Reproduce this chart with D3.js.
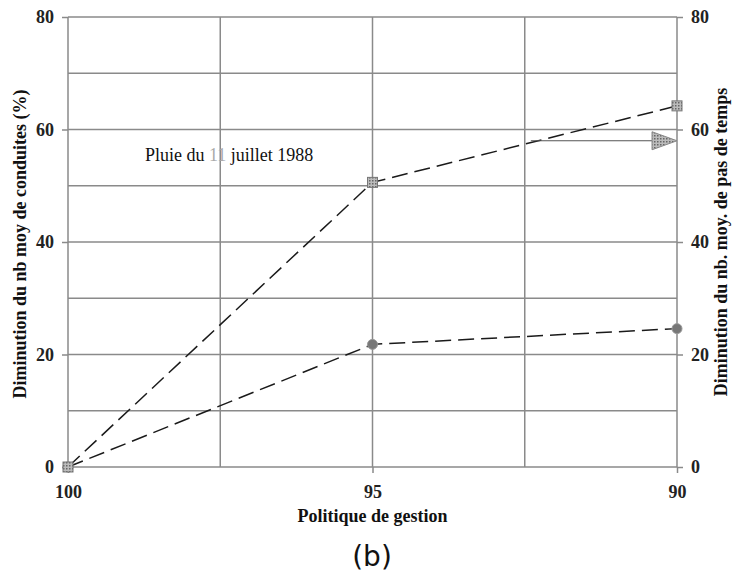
<!DOCTYPE html>
<html><head><meta charset="utf-8">
<script src="https://cdn.jsdelivr.net/npm/d3@7"></script>
<style>body{margin:0;background:#fff}</style>
</head><body>
<script>
// Management policy levels (x) and the two reductions (y, %)
const policies = [100, 95, 90];
const conduitesReduction = [0, 21.8, 24.6];   // circles
const pasTempsReduction = [0, 50.6, 64.2];    // squares
const yTicks = [0, 20, 40, 60, 80];
const xTicks = [100, 95, 90];
const xGrid = [100, 97.5, 95, 92.5, 90];
const yGrid = [0, 10, 20, 30, 40, 50, 60, 70, 80];
const arrowLevel = 58;       // arrow pointing to the right-hand axis
const arrowStart = 92.4;

const W = 736, H = 582;
const m = {l: 68, r: 677, t: 17, b: 467};
const serif = "Liberation Serif, Times New Roman, serif";

const svg = d3.select("body").append("svg").attr("width", W).attr("height", H);
const defs = svg.append("defs");
const pat = defs.append("pattern").attr("id", "dots").attr("width", 3).attr("height", 3)
  .attr("patternUnits", "userSpaceOnUse");
pat.append("rect").attr("width", 3).attr("height", 3).attr("fill", "#bbb");
pat.append("rect").attr("width", 1.5).attr("height", 1.5).attr("fill", "#666");

const x = d3.scaleLinear().domain([100, 90]).range([m.l, m.r]);
const y = d3.scaleLinear().domain([0, 80]).range([m.b, m.t]);

// grid
svg.append("g").selectAll("line").data(yGrid).join("line")
  .attr("x1", m.l).attr("x2", m.r).attr("y1", d => y(d)).attr("y2", d => y(d))
  .attr("stroke", "#8a8a8a").attr("stroke-width", 1.5);
svg.append("g").selectAll("line").data(xGrid).join("line")
  .attr("y1", m.t).attr("y2", m.b).attr("x1", d => x(d)).attr("x2", d => x(d))
  .attr("stroke", "#8a8a8a").attr("stroke-width", 1.5);

// axes
const axStyle = g => {
  g.select(".domain").remove();
  g.selectAll(".tick line").attr("stroke", "#8a8a8a").attr("stroke-width", 1.5);
  g.selectAll(".tick text").attr("font-family", serif).attr("font-weight", "bold")
    .attr("font-size", 18).attr("fill", "#222");
};
svg.append("g").attr("transform", `translate(${m.l},0)`)
  .call(d3.axisLeft(y).tickValues(yTicks).tickSize(6).tickPadding(8)).call(axStyle);
svg.append("g").attr("transform", `translate(${m.r},0)`)
  .call(d3.axisRight(y).tickValues(yTicks).tickSize(6).tickPadding(8)).call(axStyle);
svg.append("g").attr("transform", `translate(0,${m.b})`)
  .call(d3.axisBottom(x).tickValues(xTicks).tickSize(6).tickPadding(12).tickFormat(d3.format("d"))).call(axStyle);

// series lines
const line = d3.line().x((d, i) => x(policies[i])).y(d => y(d));
[pasTempsReduction, conduitesReduction].forEach(s => {
  svg.append("path").datum(s).attr("d", line).attr("fill", "none")
    .attr("stroke", "#1a1a1a").attr("stroke-width", 1.5).attr("stroke-dasharray", "16,7");
});

// markers
svg.append("g").selectAll("circle").data(conduitesReduction).join("circle")
  .attr("cx", (d, i) => x(policies[i])).attr("cy", d => y(d)).attr("r", 5)
  .attr("fill", "#777").attr("stroke", "#999").attr("stroke-width", 1);
svg.append("g").selectAll("rect").data(pasTempsReduction).join("rect")
  .attr("x", (d, i) => x(policies[i]) - 5).attr("y", d => y(d) - 5)
  .attr("width", 10).attr("height", 10)
  .attr("fill", "url(#dots)").attr("stroke", "#777").attr("stroke-width", 1);

// arrow toward right axis
const ay = y(arrowLevel);
svg.append("line").attr("x1", x(arrowStart)).attr("x2", m.r - 24)
  .attr("y1", ay).attr("y2", ay).attr("stroke", "#555").attr("stroke-width", 1.2);
svg.append("path")
  .attr("d", `M${m.r - 25},${ay - 9} L${m.r},${ay} L${m.r - 25},${ay + 9} Z`)
  .attr("fill", "url(#dots)").attr("stroke", "#888").attr("stroke-width", 1);

// annotation
const note = svg.append("text").attr("x", 145).attr("y", 161)
  .attr("font-family", serif).attr("font-size", 18).attr("fill", "#111");
note.append("tspan").text("Pluie du ");
note.append("tspan").attr("fill", "#aaa").text("11");
note.append("tspan").text(" juillet 1988");

// axis titles
svg.append("text").attr("transform", `translate(26,${(m.t + m.b) / 2 + 2}) rotate(-90)`)
  .attr("text-anchor", "middle").attr("font-family", serif).attr("font-weight", "bold")
  .attr("font-size", 18).attr("fill", "#111").text("Diminution du nb moy de conduites (%)");
svg.append("text").attr("transform", `translate(727,${(m.t + m.b) / 2}) rotate(-90)`)
  .attr("text-anchor", "middle").attr("font-family", serif).attr("font-weight", "bold")
  .attr("font-size", 18).attr("fill", "#111").text("Diminution du nb. moy. de pas de temps");
svg.append("text").attr("x", (m.l + m.r) / 2).attr("y", 522)
  .attr("text-anchor", "middle").attr("font-family", serif).attr("font-weight", "bold")
  .attr("font-size", 18).attr("fill", "#111").text("Politique de gestion");
svg.append("text").attr("x", 372).attr("y", 566)
  .attr("text-anchor", "middle").attr("font-family", "DejaVu Sans, Noto Sans, sans-serif")
  .attr("font-size", 28).attr("fill", "#111").text("(b)");
</script>
</body></html>
